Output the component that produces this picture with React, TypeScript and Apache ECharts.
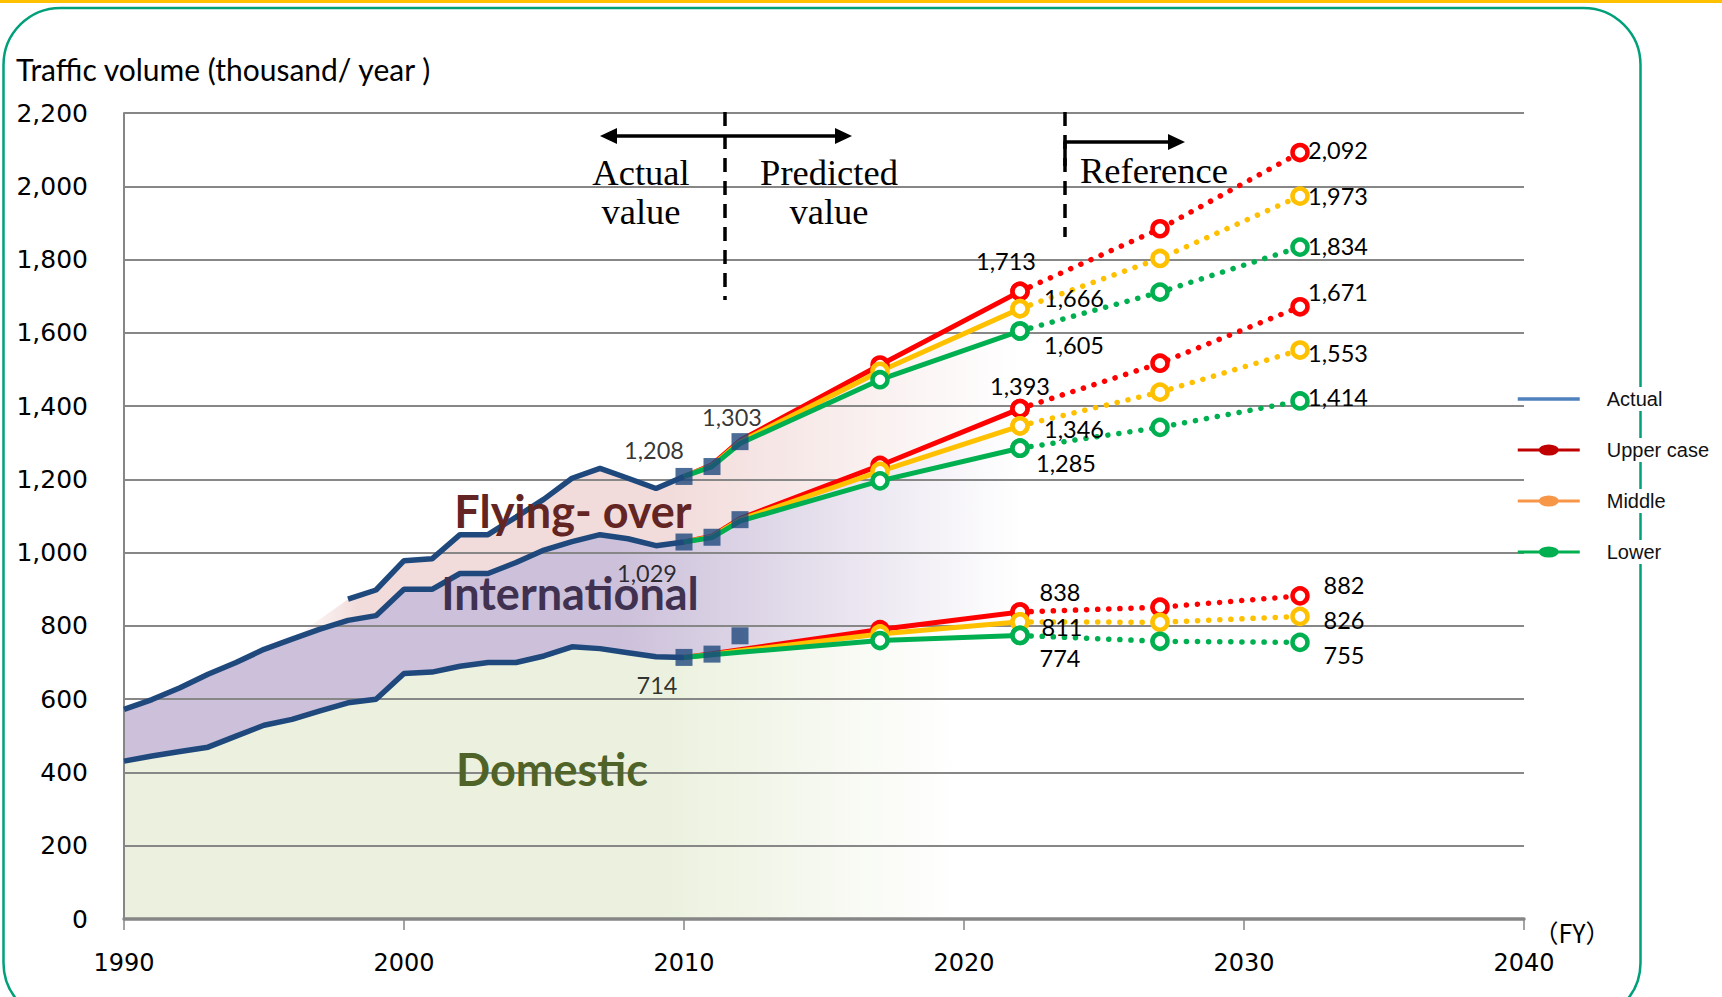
import React, { useEffect, useRef } from "react";
import * as echarts from "echarts";

// ---- Actual traffic (thousand / year) ----
const actualYears = [1990, 1991, 1992, 1993, 1994, 1995, 1996, 1997, 1998, 1999, 2000, 2001, 2002, 2003, 2004, 2005, 2006, 2007, 2008, 2009, 2010];
const domesticActual = [431, 445, 457, 469, 499, 529, 545, 568, 590, 600, 670, 674, 690, 700, 700, 718, 743, 738, 727, 716, 714];
const domIntlActual = [572, 599, 631, 668, 700, 736, 764, 791, 815, 828, 900, 900, 943, 943, 973, 1007, 1030, 1049, 1038, 1019, 1029];
const totalYears = [1998, 1999, 2000, 2001, 2002, 2003, 2004, 2005, 2006, 2007, 2008, 2009, 2010];
const totalActual = [873, 898, 978, 983, 1049, 1049, 1097, 1146, 1203, 1230, 1203, 1175, 1208];

// ---- Recent actual points (squares) ----
const squareYears = [2010, 2011, 2012];
const squareTotal = [1208, 1235, 1303];
const squareDomIntl = [1029, 1042, 1090];
const squareDomestic = [714, 723, 773];

// ---- Forecast ----
const forecastYears = [2010, 2011, 2012, 2017, 2022];
const referenceYears = [2022, 2027, 2032];

const upperTotal = [1208, 1240, 1306, 1512, 1713];
const upperTotalRef = [1713, 1884, 2092];
const upperDomIntl = [1029, 1045, 1093, 1238, 1393];
const upperDomIntlRef = [1393, 1517, 1671];
const upperDomestic = [714, 724, 735, 790, 838];
const upperDomesticRef = [838, 851, 882];

const middleTotal = [1208, 1237, 1302, 1495, 1666];
const middleTotalRef = [1666, 1803, 1973];
const middleDomIntl = [1029, 1043, 1090, 1222, 1346];
const middleDomIntlRef = [1346, 1438, 1553];
const middleDomestic = [714, 722, 732, 778, 811];
const middleDomesticRef = [811, 810, 826];

const lowerTotal = [1208, 1235, 1298, 1472, 1605];
const lowerTotalRef = [1605, 1711, 1834];
const lowerDomIntl = [1029, 1041, 1086, 1196, 1285];
const lowerDomIntlRef = [1285, 1342, 1414];
const lowerDomestic = [714, 721, 728, 760, 774];
const lowerDomesticRef = [774, 758, 755];

const legendNames = ["Actual", "Upper case", "Middle", "Lower"];

type Group = "total" | "domIntl" | "domestic";

const scenarios = [
  {
    name: "Upper case",
    color: "#ff0000",
    legendColor: "#c00000",
    values: {
      total: [upperTotal, upperTotalRef],
      domIntl: [upperDomIntl, upperDomIntlRef],
      domestic: [upperDomestic, upperDomesticRef],
    },
    // label offsets (px) for the 2022 and 2032 values
    offsets: {
      total: [[-14, -30], [38, -3]],
      domIntl: [[0, -23], [38, -15]],
      domestic: [[40, -20], [44, -11]],
    },
  },
  {
    name: "Middle",
    color: "#ffc000",
    legendColor: "#f79646",
    values: {
      total: [middleTotal, middleTotalRef],
      domIntl: [middleDomIntl, middleDomIntlRef],
      domestic: [middleDomestic, middleDomesticRef],
    },
    offsets: {
      total: [[54, -11], [38, 0]],
      domIntl: [[54, 3], [38, 3]],
      domestic: [[42, 5], [44, 4]],
    },
  },
  {
    name: "Lower",
    color: "#00b050",
    legendColor: "#00b050",
    values: {
      total: [lowerTotal, lowerTotalRef],
      domIntl: [lowerDomIntl, lowerDomIntlRef],
      domestic: [lowerDomestic, lowerDomesticRef],
    },
    offsets: {
      total: [[54, 14], [38, -1]],
      domIntl: [[46, 15], [38, -4]],
      domestic: [[40, 23], [44, 13]],
    },
  },
];

const groups: Group[] = ["total", "domIntl", "domestic"];

const BLUE = "#1f497d";
const LABEL_FONT = "Lato, 'Noto Sans', sans-serif";
const fmt = (v: number) => Number(v).toLocaleString("en-US");

function buildOption() {
  // shaded bands: domestic / international / flying-over, extended with the middle forecast
  const extYears = forecastYears.slice(1);
  const domTop = [
    ...actualYears.map((y, i) => [y, domesticActual[i]]),
    ...extYears.map((y, i) => [y, middleDomestic[i + 1]]),
  ];
  const midTop = [
    ...actualYears.map((y, i) => [y, domIntlActual[i]]),
    ...extYears.map((y, i) => [y, middleDomIntl[i + 1]]),
  ];
  // the flying-over band fades in from the international line two years before its first value
  const fadeStart = midTop.find((p) => p[0] === totalYears[0] - 2)!;
  const totTop = [
    fadeStart,
    ...totalYears.map((y, i) => [y, totalActual[i]]),
    ...extYears.map((y, i) => [y, middleTotal[i + 1]]),
  ];
  const midUnderTotal = midTop.filter((p) => p[0] >= fadeStart[0]);
  const bands = [
    {
      top: domTop,
      bottom: [[domTop[0][0], 0], [domTop[domTop.length - 1][0], 0]],
      rgb: "235,241,222",
      stops: [[0, 1], [0.6, 1], [0.93, 0]],
      halo: true,
    },
    { top: midTop, bottom: domTop, rgb: "204,192,218", stops: [[0, 1], [0.55, 1], [1, 0]], halo: true },
    { top: totTop, bottom: midUnderTotal, rgb: "242,220,219", stops: [[0, 0], [0.09, 1], [0.52, 1], [1, 0]], halo: false },
  ];

  const areaSeries = {
    type: "custom",
    name: "bands",
    z: 1,
    silent: true,
    data: bands.map((b) => [b.top[0][0], 0]),
    renderItem: (params: any, api: any) => {
      const b = bands[params.dataIndex];
      const top = b.top.map((p) => api.coord(p));
      const bottom = b.bottom.map((p) => api.coord(p)).reverse();
      const fill = {
        type: "linear",
        x: 0,
        y: 0,
        x2: 1,
        y2: 0,
        colorStops: b.stops.map(([o, a]) => ({ offset: o, color: `rgba(${b.rgb},${a})` })),
      };
      const children: any[] = [{ type: "polygon", shape: { points: [...top, ...bottom] }, style: { fill } }];
      if (b.halo) {
        children.push({
          type: "polyline",
          shape: { points: top.map((p: number[]) => [p[0], p[1] - 4.5]) },
          style: { stroke: "#ffffff", lineWidth: 4.5, fill: null },
        });
      }
      return { type: "group", children };
    },
  };

  const actualSeries = [
    { years: actualYears, vals: domesticActual },
    { years: actualYears, vals: domIntlActual },
    { years: totalYears, vals: totalActual },
  ].map((s) => ({
    type: "line",
    name: "Actual",
    z: 3,
    symbol: "none",
    data: s.years.map((y, i) => [y, s.vals[i]]),
    lineStyle: { color: BLUE, width: 5.5 },
    itemStyle: { color: BLUE },
  }));

  const labelBase = {
    show: false,
    color: "#000",
    fontFamily: LABEL_FONT,
    fontSize: 23.5,
    textBorderWidth: 0,
    formatter: (p: any) => fmt(p.value[1]),
  };

  const forecastSeries: any[] = [];
  scenarios.forEach((sc) => {
    groups.forEach((g) => {
      const [solid, ref] = sc.values[g];
      const [offNow, offRef] = sc.offsets[g];
      const marker = { color: "#ffffff", borderColor: sc.color, borderWidth: 4.5 };
      forecastSeries.push({
        type: "line",
        name: sc.name,
        z: 4,
        symbol: "circle",
        symbolSize: 15,
        showAllSymbol: true,
        lineStyle: { color: sc.color, width: 5 },
        itemStyle: marker,
        label: labelBase,
        data: forecastYears.map((y, i) => {
          const item: any = { value: [y, solid[i]] };
          if (y < 2017) item.symbol = "none";
          if (y === 2022) item.label = { show: true, position: "inside", offset: offNow };
          return item;
        }),
      });
      forecastSeries.push({
        type: "line",
        name: sc.name,
        z: 4,
        symbol: "circle",
        symbolSize: 15,
        showAllSymbol: true,
        lineStyle: { color: sc.color, width: 5.5, type: [0.1, 11], cap: "round" },
        itemStyle: marker,
        label: labelBase,
        data: referenceYears.map((y, i) => {
          const item: any = { value: [y, ref[i]] };
          if (y === 2032) item.label = { show: true, position: "inside", offset: offRef };
          return item;
        }),
      });
    });
  });

  // squares for 2010-2012, labelled where the value is stated
  const squareLabelOffsets: Record<string, number[]> = {
    "total-2010": [-30, -26],
    "total-2012": [-8, -25],
    "domIntl-2010": [-37, 31],
    "domestic-2010": [-27, 28],
  };
  const squareData: any[] = [];
  [
    ["total", squareTotal],
    ["domIntl", squareDomIntl],
    ["domestic", squareDomestic],
  ].forEach(([g, vals]: any) => {
    squareYears.forEach((y, i) => {
      const item: any = { value: [y, vals[i]] };
      const off = squareLabelOffsets[`${g}-${y}`];
      if (off) item.label = { show: true, position: "inside", offset: off };
      squareData.push(item);
    });
  });
  const squareSeries = {
    type: "scatter",
    name: "recent",
    z: 6,
    symbol: "rect",
    symbolSize: 17,
    itemStyle: { color: BLUE },
    label: labelBase,
    data: squareData,
  };

  const legendIcon = "path://M0,4H62V7H0Z M21,5.5a10,5.5 0 1,1 20,0a10,5.5 0 1,1 -20,0Z";

  const t = (x: number, y: number, text: string, style: any, z = 20) => ({
    type: "text",
    x,
    y,
    z,
    style: { text, fill: "#000", ...style },
  });
  const serif = { fontFamily: "'Liberation Serif', 'DejaVu Serif', serif", fontSize: 36.5, align: "center", verticalAlign: "middle" };
  const catFont = { fontFamily: "Lato, 'Open Sans', sans-serif", fontWeight: "bold", fontSize: 45, align: "center", verticalAlign: "middle" };

  return {
    animation: false,
    backgroundColor: "#ffffff",
    grid: { left: 124, top: 113, right: 198, bottom: 78, containLabel: false },
    xAxis: {
      type: "value",
      min: 1990,
      max: 2040,
      interval: 10,
      z: 2,
      axisLine: { show: true, lineStyle: { color: "#868686", width: 3.5 } },
      axisTick: { show: true, length: 11, lineStyle: { color: "#868686", width: 1.5 } },
      splitLine: { show: false },
      axisLabel: {
        color: "#000",
        fontFamily: "'DejaVu Sans', Verdana, sans-serif",
        fontSize: 24,
        margin: 32,
        formatter: (v: number) => String(v),
      },
    },
    yAxis: {
      type: "value",
      min: 0,
      max: 2200,
      interval: 200,
      z: 2,
      axisLine: { show: true, lineStyle: { color: "#868686", width: 2 } },
      axisTick: { show: false },
      splitLine: { show: true, lineStyle: { color: "#878787", width: 2 } },
      axisLabel: {
        color: "#000",
        fontFamily: "'DejaVu Sans', Verdana, sans-serif",
        fontSize: 25,
        margin: 36,
        formatter: (v: number) => fmt(v),
      },
    },
    legend: {
      orient: "vertical",
      left: 1511,
      top: 382,
      z: 10,
      itemWidth: 62,
      itemHeight: 11,
      itemGap: 27,
      selectedMode: false,
      textStyle: {
        color: "#111",
        fontFamily: "'Liberation Sans', Arial, sans-serif",
        fontSize: 20,
        backgroundColor: "#ffffff",
        padding: [2, 4, 2, 22],
      },
      data: legendNames.map((name) => {
        if (name === "Actual") {
          return {
            name,
            itemStyle: { color: "rgba(0,0,0,0)", borderWidth: 0, opacity: 0 },
            lineStyle: { color: "#4f81bd", width: 3.5 },
          };
        }
        const sc = scenarios.find((s) => s.name === name)!;
        return { name, icon: legendIcon, itemStyle: { color: sc.legendColor, borderWidth: 0 } };
      }),
    },
    graphic: [
      { type: "rect", z: 0, shape: { x: 0, y: 0, width: 1722, height: 3 }, style: { fill: "#ffc000" } },
      {
        type: "rect",
        z: 0,
        shape: { x: 3.5, y: 8, width: 1637, height: 1012, r: 57 },
        style: { fill: null, stroke: "#00a07a", lineWidth: 2.5 },
      },
      t(16, 69, "Traffic volume (thousand/ year )", {
        fontFamily: "Lato, 'Noto Sans', sans-serif",
        fontSize: 30,
        align: "left",
        verticalAlign: "middle",
      }),
      // boundary: actual vs predicted
      { type: "line", z: 20, shape: { x1: 725, y1: 112, x2: 725, y2: 300 }, style: { stroke: "#000", lineWidth: 3.5, lineDash: [14, 9] } },
      { type: "line", z: 20, shape: { x1: 612, y1: 136, x2: 840, y2: 136 }, style: { stroke: "#000", lineWidth: 3.5 } },
      { type: "polygon", z: 20, shape: { points: [[600, 136], [617, 128], [617, 144]] }, style: { fill: "#000" } },
      { type: "polygon", z: 20, shape: { points: [[852, 136], [835, 128], [835, 144]] }, style: { fill: "#000" } },
      t(641, 172, "Actual", serif),
      t(641, 211, "value", serif),
      t(829, 172, "Predicted", serif),
      t(829, 211, "value", serif),
      // boundary: reference period
      { type: "line", z: 20, shape: { x1: 1065, y1: 112, x2: 1065, y2: 237 }, style: { stroke: "#000", lineWidth: 3.5, lineDash: [14, 9] } },
      { type: "line", z: 20, shape: { x1: 1065, y1: 142, x2: 1065, y2: 166 }, style: { stroke: "#000", lineWidth: 3.5 } },
      { type: "line", z: 20, shape: { x1: 1063.5, y1: 142, x2: 1172, y2: 142 }, style: { stroke: "#000", lineWidth: 3.5 } },
      { type: "polygon", z: 20, shape: { points: [[1185, 142], [1168, 134], [1168, 150]] }, style: { fill: "#000" } },
      t(1080, 170, "Reference", { ...serif, align: "left" }),
      // band names
      t(573, 511, "Flying- over", { ...catFont, fill: "#632523" }),
      t(570, 593, "International", { ...catFont, fill: "#403151" }),
      t(552, 769, "Domestic", { ...catFont, fill: "#4f6228" }),
      t(1572, 932, "（FY）", {
        fontFamily: "'Noto Sans CJK JP', sans-serif",
        fontSize: 25,
        align: "center",
        verticalAlign: "middle",
      }),
    ],
    series: [...actualSeries, areaSeries, ...forecastSeries, squareSeries],
  };
}

export default function App() {
  const ref = useRef<HTMLDivElement>(null);
  useEffect(() => {
    document.body.style.margin = "0";
    if (!ref.current) return;
    const chart = echarts.init(ref.current, null, { renderer: "svg" });
    chart.setOption(buildOption() as any);
    return () => chart.dispose();
  }, []);
  return (
    <div
      ref={ref}
      style={{ position: "fixed", left: 0, top: 0, width: 1722, height: 997, background: "#fff" }}
    />
  );
}
